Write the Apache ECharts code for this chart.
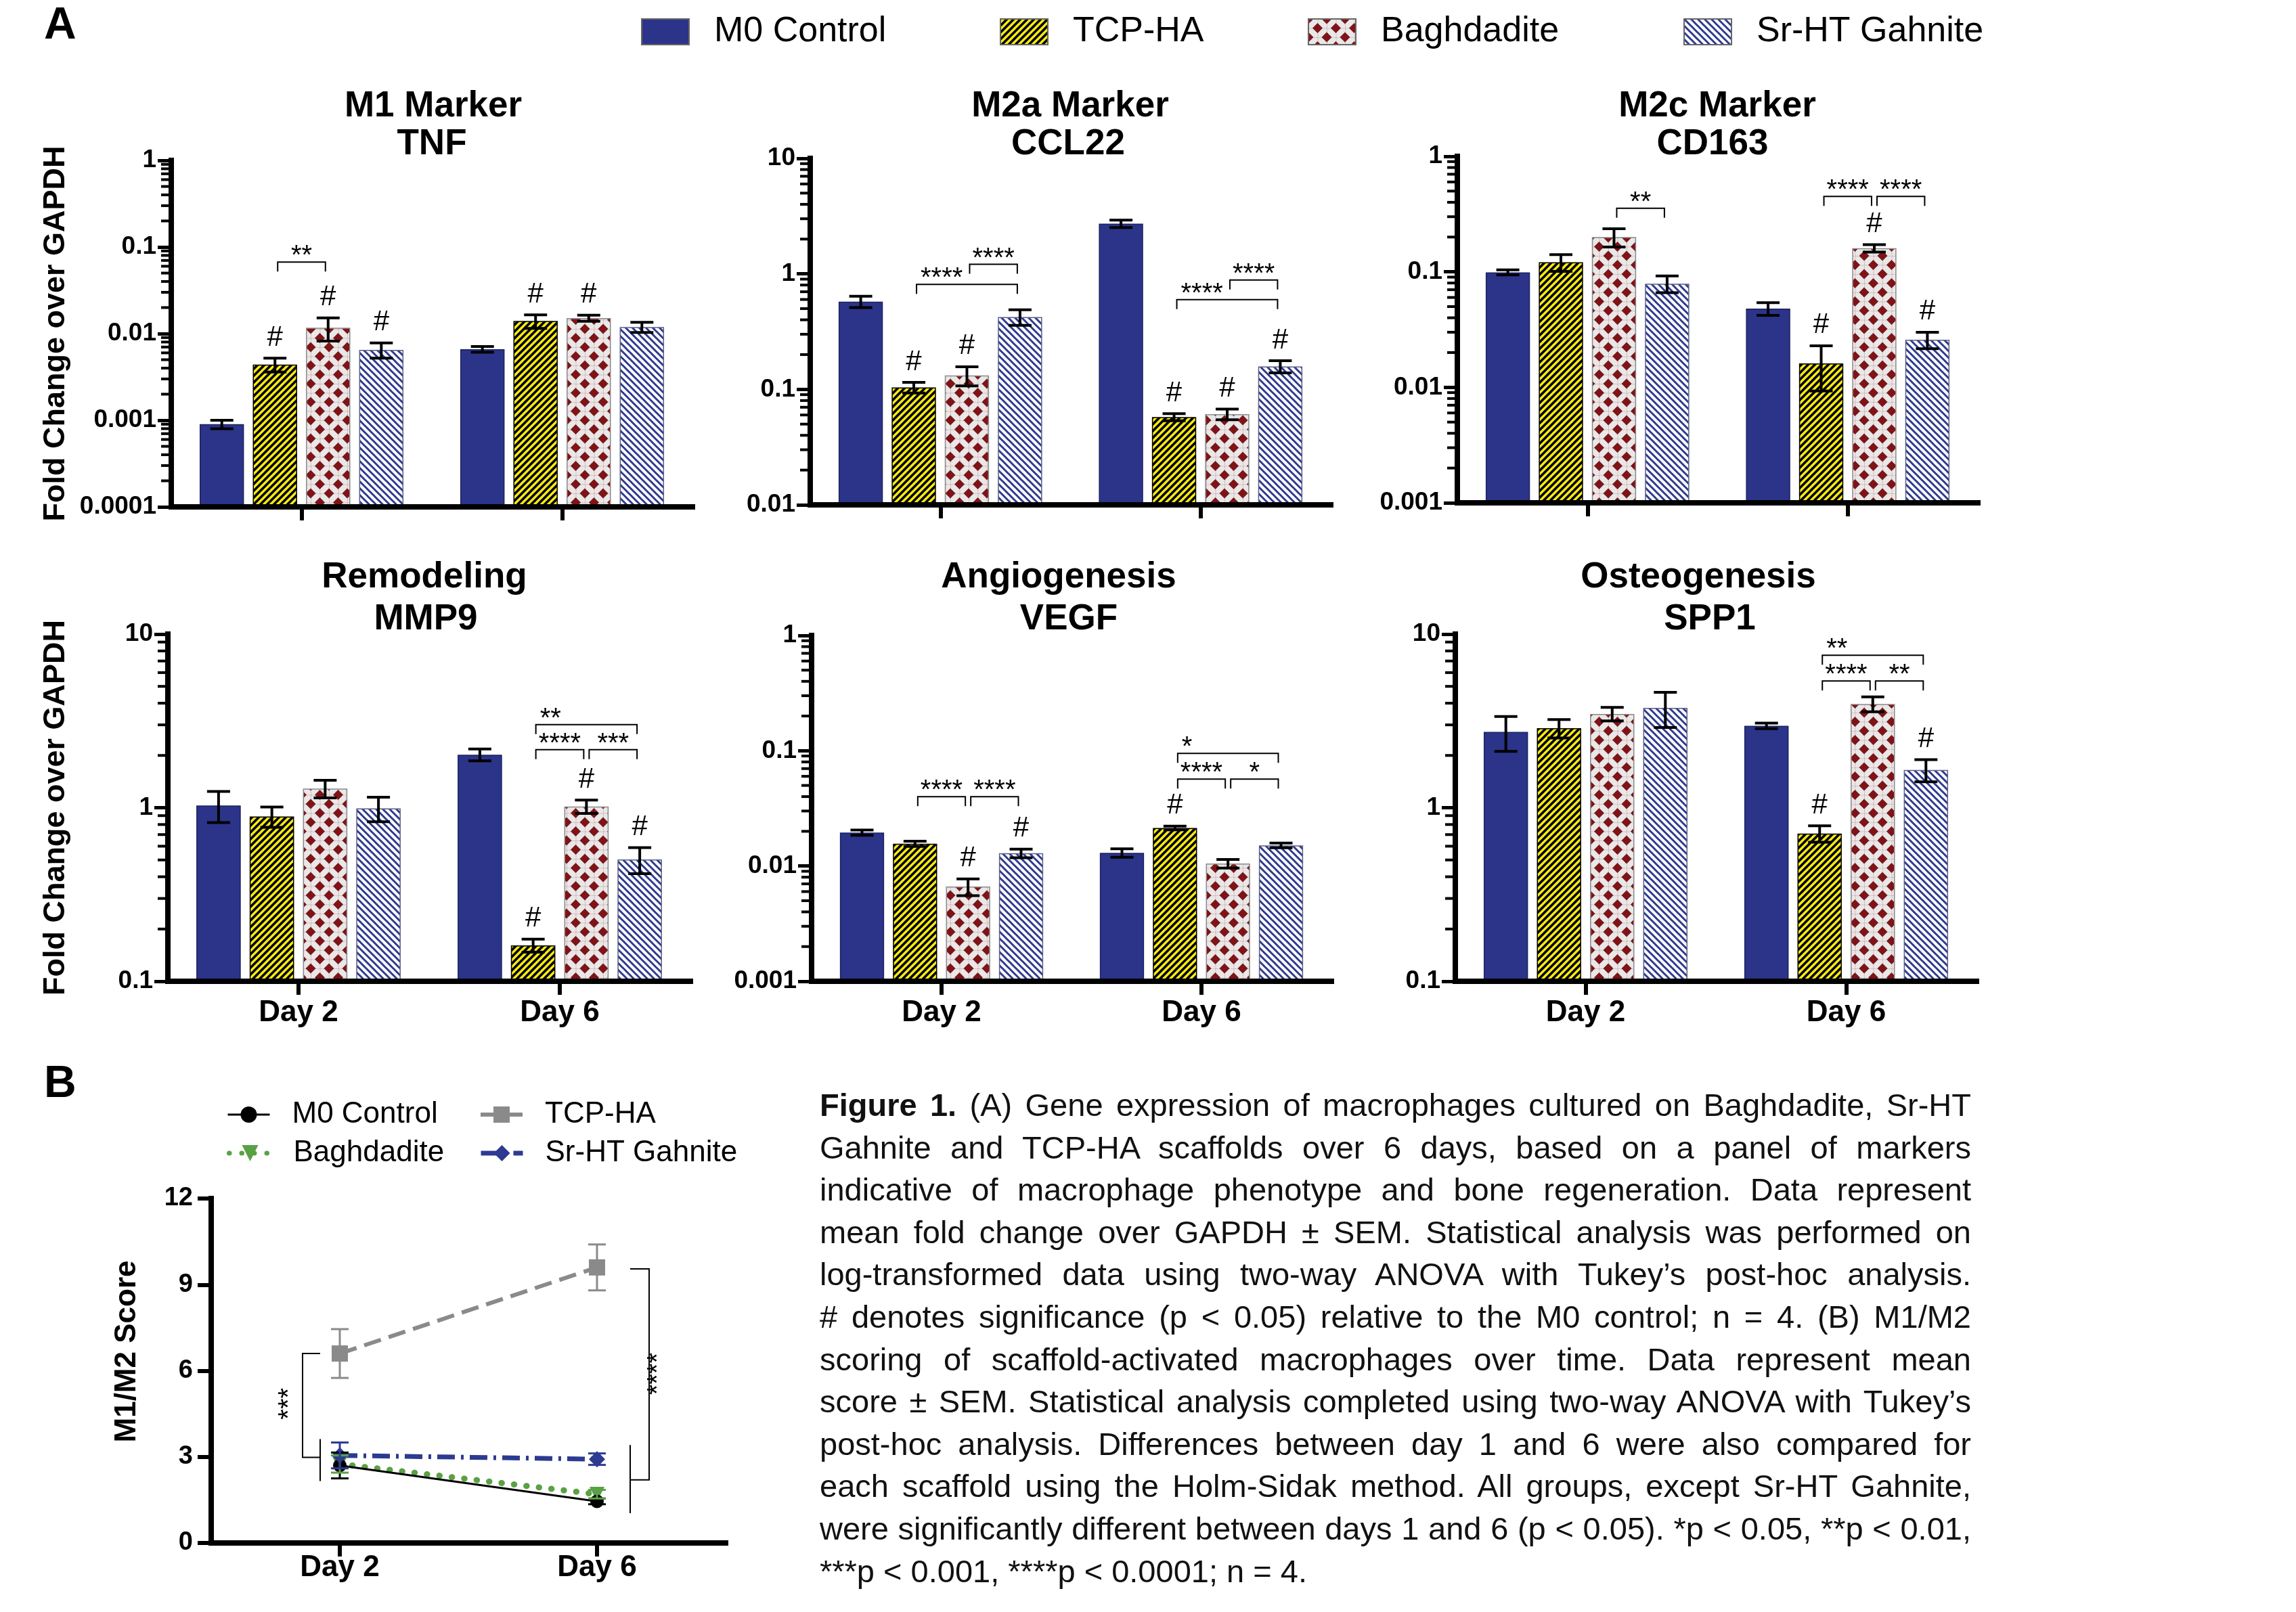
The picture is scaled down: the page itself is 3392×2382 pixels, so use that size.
<!DOCTYPE html>
<html>
<head>
<meta charset="utf-8">
<script src="https://cdn.jsdelivr.net/npm/echarts@6/dist/echarts.min.js"></script>
<style>
  html, body { margin:0; padding:0; background:#ffffff; }
  #chart { position:absolute; left:0; top:0; width:3392px; height:2382px; }
  #caption { position:absolute; left:1211px; top:1602px; width:1701px;
    font-family:'Liberation Sans', Arial, Helvetica, sans-serif; font-size:47px; line-height:62.6px; color:#111; }
  #caption div { height:62.6px; text-align:justify; text-align-last:justify; }
  #caption div.last { text-align-last:left; }
</style>
</head>
<body>
<div id="chart"></div>
<div id="caption"></div>
<script>
const FONT = "'Liberation Sans', Arial, Helvetica, sans-serif";
const ZW = '\u200b';

// ---------------- categories ----------------
const days = ['Day 2', 'Day 6'];
const groups = ['M0 Control', 'TCP-HA', 'Baghdadite', 'Sr-HT Gahnite'];
const panelTitles = [
  ['M1 Marker', 'TNF'], ['M2a Marker', 'CCL22'], ['M2c Marker', 'CD163'],
  ['Remodeling', 'MMP9'], ['Angiogenesis', 'VEGF'], ['Osteogenesis', 'SPP1']
];
const yTitle = 'Fold Change over GAPDH';

// ---------------- tick labels ----------------
const tnfTicks   = ['0.0001', '0.001', '0.01', '0.1', '1'];
const ccl22Ticks = ['0.01', '0.1', '1', '10'];
const cd163Ticks = ['0.001', '0.01', '0.1', '1'];
const mmp9Ticks  = ['0.1', '1', '10'];
const vegfTicks  = ['0.001', '0.01', '0.1', '1'];
const spp1Ticks  = ['0.1', '1', '10'];
const scoreTicks = ['0', '3', '6', '9', '12'];

// ---------------- values (rows: M0, TCP-HA, Baghdadite, Sr-HT; cols: Day 2, Day 6) ----------------
const tnfMean = [[0.0009, 0.0066], [0.0044, 0.014], [0.0117, 0.0151], [0.0065, 0.0119]];
const tnfSem  = [[0.0001, 0.0005], [0.0008, 0.0025], [0.0035, 0.0012], [0.0013, 0.0016]];
const tnfHash = [[0, 0], [1, 1], [1, 1], [1, 0]];
const tnfSig  = [[0, 1, 2, 0.067, '**', 'c']];

const ccl22Mean = [[0.575, 2.72], [0.104, 0.0575], [0.132, 0.061], [0.423, 0.158]];
const ccl22Sem  = [[0.065, 0.2], [0.011, 0.004], [0.025, 0.0065], [0.065, 0.019]];
const ccl22Hash = [[0, 0], [1, 1], [1, 1], [0, 1]];
const ccl22Sig  = [[0, 1, 3, 0.81, '****', 'l'], [0, 2, 3, 1.21, '****', 'c'],
                   [1, 1, 3, 0.598, '****', 'l'], [1, 2, 3, 0.885, '****', 'c']];

const cd163Mean = [[0.099, 0.048], [0.121, 0.0161], [0.2, 0.16], [0.079, 0.0258]];
const cd163Sem  = [[0.005, 0.006], [0.02, 0.0068], [0.036, 0.012], [0.013, 0.0042]];
const cd163Hash = [[0, 0], [0, 1], [0, 1], [0, 1]];
const cd163Sig  = [[0, 2, 3, 0.355, '**', 'c'], [1, 1, 2, 0.449, '****', 'c'], [1, 2, 3, 0.449, '****', 'c']];

const mmp9Mean = [[1.03, 2.02], [0.89, 0.161], [1.29, 1.016], [0.99, 0.503]];
const mmp9Sem  = [[0.21, 0.16], [0.12, 0.014], [0.15, 0.09], [0.16, 0.086]];
const mmp9Hash = [[0, 0], [0, 1], [0, 1], [0, 1]];
const mmp9Sig  = [[1, 1, 2, 2.16, '****', 'c'], [1, 2, 3, 2.16, '***', 'c'], [1, 1, 3, 3.01, '**', 'l']];

const vegfMean = [[0.0195, 0.013], [0.0156, 0.0214], [0.00663, 0.0105], [0.0129, 0.0151]];
const vegfSem  = [[0.001, 0.0011], [0.0008, 0.0008], [0.0011, 0.0009], [0.0011, 0.0007]];
const vegfHash = [[0, 0], [0, 1], [1, 0], [1, 0]];
const vegfSig  = [[0, 1, 2, 0.0399, '****', 'c'], [0, 2, 3, 0.0399, '****', 'c'],
                  [1, 1, 2, 0.0567, '****', 'c'], [1, 2, 3, 0.0567, '*', 'c'], [1, 1, 3, 0.0947, '*', 'l']];

const spp1Mean = [[2.73, 2.96], [2.87, 0.71], [3.47, 3.96], [3.76, 1.65]];
const spp1Sem  = [[0.62, 0.11], [0.35, 0.077], [0.31, 0.39], [0.86, 0.24]];
const spp1Hash = [[0, 0], [0, 1], [0, 0], [0, 1]];
const spp1Sig  = [[1, 1, 2, 5.37, '****', 'c'], [1, 2, 3, 5.37, '**', 'c'], [1, 1, 3, 7.55, '**', 'l']];

// Panel B: M1/M2 score
const scoreMean = [[2.7, 1.45], [6.6, 9.6], [2.75, 1.7], [3.05, 2.92]];
const scoreSem  = [[0.45, 0.1], [0.85, 0.8], [0.3, 0.15], [0.45, 0.2]];
// [day, bracket top, bracket bottom, group top, group bottom, label y, label]
const scoreSig  = [[0, 6.6, 2.98, 3.62, 2.16, 4.85, '***'], [1, 9.55, 2.2, 3.41, 1.04, 5.89, '****']];

const captionBold = 'Figure 1.';
const captionLines = [
  ' (A) Gene expression of macrophages cultured on Baghdadite, Sr-HT',
  'Gahnite and TCP-HA scaffolds over 6 days, based on a panel of markers',
  'indicative of macrophage phenotype and bone regeneration. Data represent',
  'mean fold change over GAPDH \u00b1 SEM. Statistical analysis was performed on',
  'log-transformed data using two-way ANOVA with Tukey\u2019s post-hoc analysis.',
  '# denotes significance (p < 0.05) relative to the M0 control; n = 4. (B) M1/M2',
  'scoring of scaffold-activated macrophages over time. Data represent mean',
  'score \u00b1 SEM. Statistical analysis completed using two-way ANOVA with Tukey\u2019s',
  'post-hoc analysis. Differences between day 1 and 6 were also compared for',
  'each scaffold using the Holm-Sidak method. All groups, except Sr-HT Gahnite,',
  'were significantly different between days 1 and 6 (p < 0.05). *p < 0.05, **p < 0.01,',
  '***p < 0.001, ****p < 0.0001; n = 4.'
];

// ---------------- layout (styles only) ----------------
const panelGrids = [
  {left: 253, top: 237, width: 770, height: 512},
  {left: 1197, top: 234, width: 769, height: 512},
  {left: 2153, top: 231, width: 769, height: 512},
  {left: 248, top: 937, width: 772, height: 513},
  {left: 1199, top: 939, width: 768, height: 511},
  {left: 2150, top: 937, width: 770, height: 513}
];
const scoreGrid = {left: 312, top: 1771, width: 760, height: 509};
const titleX = [[640, 638], [1581, 1578], [2537, 2530], [627, 629], [1564, 1579], [2509, 2526]];
const titleY = [[157, 213], [157, 213], [157, 213], [853, 915], [853, 915], [853, 915]];
const legendALeft = [947, 1477, 1932, 2487];
const legendBPos = [[335, 1628], [707, 1628], [335, 1685], [707, 1685]];
const BAR_W = 0.17, BAR_GAP = 0.2;

// ---------------- patterns ----------------
function stripeTile(bg, fg, size, lw, rising) {
  const c = document.createElement('canvas');
  c.width = size; c.height = size;
  const g = c.getContext('2d');
  g.fillStyle = bg; g.fillRect(0, 0, size, size);
  g.strokeStyle = fg; g.lineWidth = lw;
  g.beginPath();
  for (let o = -size; o <= size; o += size) {
    if (rising) { g.moveTo(o - 3, size + 3); g.lineTo(o + size + 3, -3); }
    else { g.moveTo(o - 3, -3); g.lineTo(o + size + 3, size + 3); }
  }
  g.stroke();
  return {image: c, repeat: 'repeat'};
}
function diamondTile(bg, fg, size, r) {
  const c = document.createElement('canvas');
  c.width = size; c.height = size;
  const g = c.getContext('2d');
  g.fillStyle = bg; g.fillRect(0, 0, size, size);
  g.strokeStyle = 'rgba(170,50,50,0.22)'; g.lineWidth = 1;
  g.beginPath();
  g.moveTo(0, size / 2 + 0.5); g.lineTo(size, size / 2 + 0.5);
  g.moveTo(size / 2 + 0.5, 0); g.lineTo(size / 2 + 0.5, size);
  g.moveTo(0, 0.5); g.lineTo(size, 0.5);
  g.moveTo(0.5, 0); g.lineTo(0.5, size);
  g.stroke();
  g.fillStyle = fg;
  [[0, 0], [size, 0], [0, size], [size, size], [size / 2, size / 2]].forEach(([cx, cy]) => {
    g.beginPath();
    g.moveTo(cx, cy - r); g.lineTo(cx + r, cy); g.lineTo(cx, cy + r); g.lineTo(cx - r, cy);
    g.closePath(); g.fill();
  });
  return {image: c, repeat: 'repeat'};
}
const fills = [
  '#2b3488',
  stripeTile('#f6ea14', '#000000', 10, 3.6, true),
  diamondTile('#e9e8e8', '#7e1418', 27, 7.5),
  stripeTile('#ffffff', '#2e3a8e', 10, 3.0, false)
];
const borders = ['#1c2260', '#000000', '#8a8a8a', '#5a5f84'];

// ---------------- helpers ----------------
const panels = [
  {ticks: tnfTicks, mean: tnfMean, sem: tnfSem, hash: tnfHash, sig: tnfSig},
  {ticks: ccl22Ticks, mean: ccl22Mean, sem: ccl22Sem, hash: ccl22Hash, sig: ccl22Sig},
  {ticks: cd163Ticks, mean: cd163Mean, sem: cd163Sem, hash: cd163Hash, sig: cd163Sig},
  {ticks: mmp9Ticks, mean: mmp9Mean, sem: mmp9Sem, hash: mmp9Hash, sig: mmp9Sig},
  {ticks: vegfTicks, mean: vegfMean, sem: vegfSem, hash: vegfHash, sig: vegfSig},
  {ticks: spp1Ticks, mean: spp1Mean, sem: spp1Sem, hash: spp1Hash, sig: spp1Sig}
];
panels.forEach(P => {
  P.min = parseFloat(P.ticks[0]);
  P.max = parseFloat(P.ticks[P.ticks.length - 1]);
});
function logLabel(ticks) {
  return function (v) {
    const lv = Math.log10(v);
    const t = ticks.find(s => Math.abs(Math.log10(parseFloat(s)) - lv) < 0.02);
    return t || '';
  };
}
function minorVals(min, max) {
  const out = [];
  for (let e = Math.round(Math.log10(min)); e < Math.round(Math.log10(max)); e++) {
    for (let m = 2; m <= 9; m++) out.push(m * Math.pow(10, e));
  }
  return out;
}
function barCenterX(api, day, k, v) {
  const a = api.coord([0, v])[0], b = api.coord([1, v])[0];
  const band = b - a;
  const c = day === 0 ? a : b;
  const bw = band * BAR_W, gap = bw * BAR_GAP;
  const total = 4 * bw + 3 * gap;
  return c - total / 2 + k * (bw + gap) + bw / 2;
}
function ln(x1, y1, x2, y2, color, w) {
  return {type: 'line', shape: {x1, y1, x2, y2}, style: {stroke: color, lineWidth: w, fill: 'none'}};
}
function txt(x, y, text, font, align, valign, rot) {
  const el = {type: 'text', x: x, y: y,
    style: {text: text, font: font, fill: '#000', align: align, verticalAlign: valign,
            textAlign: align, textVerticalAlign: valign}};
  if (rot) el.rotation = rot;
  return el;
}
function errRender(params, api) {
  const d = api.value(0), k = api.value(1), m = api.value(2), e = api.value(3), h = api.value(4);
  const x = barCenterX(api, d, k, m);
  const yT = api.coord([d, m + e])[1];
  const yB = api.coord([d, Math.max(m - e, m * 0.05)])[1];
  const cw = 17;
  const ch = [ln(x, yT, x, yB, '#000', 4), ln(x - cw, yT, x + cw, yT, '#000', 4), ln(x - cw, yB, x + cw, yB, '#000', 4)];
  if (h) ch.push(txt(x, yT - 9, '#', '42px ' + FONT, 'center', 'bottom'));
  return {type: 'group', children: ch};
}
function makeSigRender(sig) {
  return function (params, api) {
    const s = sig[params.dataIndex];
    const d = s[0], a = s[1], b = s[2], yv = s[3], lab = s[4], al = s[5];
    const xa = barCenterX(api, d, a, yv) + 4, xb = barCenterX(api, d, b, yv) - 4;
    const y = api.coord([d, yv])[1];
    return {type: 'group', children: [
      {type: 'polyline', shape: {points: [[xa, y + 14], [xa, y], [xb, y], [xb, y + 14]]},
       style: {stroke: '#000', lineWidth: 2, fill: 'none'}},
      txt(al === 'l' ? xa + 6 : (xa + xb) / 2, y + 12, lab, '40px ' + FONT, al === 'l' ? 'left' : 'center', 'bottom')
    ]};
  };
}
function minorRender(params, api) {
  const v = api.value(1);
  const p0 = api.coord([0, v]), p1 = api.coord([1, v]);
  const x0 = p0[0] - (p1[0] - p0[0]) / 2;
  return ln(x0 - 15, p0[1], x0, p0[1], '#000', 4);
}

// ---------------- build option ----------------
const grids = [], xAxes = [], yAxes = [], series = [];
panels.forEach((P, p) => {
  grids.push(Object.assign({containLabel: false, outerBoundsMode: 'none'}, panelGrids[p]));
  xAxes.push({
    type: 'category', gridIndex: p, data: days, z: 10,
    axisLine: {show: true, lineStyle: {color: '#000', width: 8, cap: 'square'}},
    axisTick: {show: true, alignWithLabel: true, length: 20, lineStyle: {color: '#000', width: 6}},
    axisLabel: {show: p >= 3, margin: 25, fontFamily: FONT, fontSize: 44, fontWeight: 'bold', color: '#000'},
    splitLine: {show: false}
  });
  yAxes.push({
    type: 'log', logBase: 10, gridIndex: p, min: P.min, max: P.max, startValue: P.min, z: 10,
    axisLine: {show: true, lineStyle: {color: '#000', width: 8, cap: 'square'}},
    axisTick: {show: true, length: 20, lineStyle: {color: '#000', width: 5}},
    axisLabel: {margin: 22, fontFamily: FONT, fontSize: 37, fontWeight: 'bold', color: '#000', formatter: logLabel(P.ticks)},
    splitLine: {show: false}, minorTick: {show: false},
    name: (p % 3 === 0) ? yTitle : '', nameLocation: 'middle', nameGap: (p === 0 ? 148 : 143),
    nameTextStyle: {fontFamily: FONT, fontSize: 45, fontWeight: 'bold', color: '#000'}
  });
  groups.forEach((g, k) => {
    series.push({
      type: 'bar', name: g, xAxisIndex: p, yAxisIndex: p, data: P.mean[k],
      barWidth: (BAR_W * 100) + '%', barGap: (BAR_GAP * 100) + '%', silent: true, z: 2,
      itemStyle: {color: fills[k], borderColor: borders[k], borderWidth: 1.5}
    });
  });
  const errData = [];
  groups.forEach((g, k) => days.forEach((dd, di) => errData.push([di, k, P.mean[k][di], P.sem[k][di], P.hash[k][di]])));
  series.push({type: 'custom', xAxisIndex: p, yAxisIndex: p, z: 5, silent: true, clip: false,
    data: errData, encode: {x: 0, y: 2}, renderItem: errRender});
  series.push({type: 'custom', xAxisIndex: p, yAxisIndex: p, z: 5, silent: true, clip: false,
    data: P.sig.map(s => [s[0], s[1], s[2], s[3]]), encode: {x: 0, y: 3}, renderItem: makeSigRender(P.sig)});
  series.push({type: 'custom', xAxisIndex: p, yAxisIndex: p, z: 11, silent: true, clip: false,
    data: minorVals(P.min, P.max).map(v => [0, v]), encode: {x: 0, y: 1}, renderItem: minorRender});
});

// Panel B
const B = 6;
grids.push(Object.assign({containLabel: false, outerBoundsMode: 'none'}, scoreGrid));
xAxes.push({
  type: 'category', gridIndex: B, data: days, z: 10,
  axisLine: {show: true, lineStyle: {color: '#000', width: 8, cap: 'square'}},
  axisTick: {show: true, alignWithLabel: true, length: 20, lineStyle: {color: '#000', width: 6}},
  axisLabel: {margin: 15, fontFamily: FONT, fontSize: 44, fontWeight: 'bold', color: '#000'},
  splitLine: {show: false}
});
yAxes.push({
  type: 'value', gridIndex: B, min: 0, max: 12, interval: 3, z: 10,
  axisLine: {show: true, lineStyle: {color: '#000', width: 8, cap: 'square'}},
  axisTick: {show: true, length: 20, lineStyle: {color: '#000', width: 6}},
  axisLabel: {margin: 27, fontFamily: FONT, fontSize: 38, fontWeight: 'bold', color: '#000',
    formatter: v => scoreTicks.find(t => +t === v) || ''},
  splitLine: {show: false}
});
const scoreStyles = [
  {color: '#000000', symbol: 'circle', size: 20, rotate: 0, line: {width: 3, type: 'solid'}},
  {color: '#8a8a8a', symbol: 'rect', size: 24, rotate: 0, line: {width: 6, type: [26, 12]}},
  {color: '#5aa145', symbol: 'triangle', size: 22, rotate: 180, line: {width: 9, type: [0.5, 18], cap: 'round'}},
  {color: '#2c3a92', symbol: 'diamond', size: 24, rotate: 0, line: {width: 7, type: [26, 9, 4, 9]}}
];
const drawOrder = [2, 0, 3, 1];
drawOrder.forEach(k => {
  const st = scoreStyles[k];
  series.push({
    type: 'line', name: groups[k] + ZW, xAxisIndex: B, yAxisIndex: B, data: scoreMean[k], z: 3,
    symbol: st.symbol, symbolSize: st.size, symbolRotate: st.rotate, silent: true,
    itemStyle: {color: st.color},
    lineStyle: Object.assign({color: st.color}, st.line)
  });
});
const scoreErrData = [];
groups.forEach((g, k) => days.forEach((dd, di) => scoreErrData.push([di, scoreMean[k][di], scoreSem[k][di], k])));
series.push({type: 'custom', xAxisIndex: B, yAxisIndex: B, z: 4, silent: true, clip: false,
  data: scoreErrData, encode: {x: 0, y: 1},
  renderItem: function (params, api) {
    const d = api.value(0), m = api.value(1), e = api.value(2), k = api.value(3);
    const col = scoreStyles[k].color;
    const x = api.coord([d, m])[0];
    const yT = api.coord([d, m + e])[1], yB = api.coord([d, m - e])[1];
    return {type: 'group', children: [ln(x, yT, x, yB, col, 3), ln(x - 13, yT, x + 13, yT, col, 3), ln(x - 13, yB, x + 13, yB, col, 3)]};
  }});
series.push({type: 'custom', xAxisIndex: B, yAxisIndex: B, z: 4, silent: true, clip: false,
  data: scoreSig.map(s => [s[0], s[1]]), encode: {x: 0, y: 1},
  renderItem: function (params, api) {
    const s = scoreSig[params.dataIndex];
    const d = s[0];
    const off = d === 0 ? {main: -55, inner: -29, text: -74} : {main: 77, inner: 49, text: 91};
    const cx = api.coord([d, s[1]])[0];
    const yA = api.coord([d, s[1]])[1], yB = api.coord([d, s[2]])[1];
    const gA = api.coord([d, s[3]])[1], gB = api.coord([d, s[4]])[1];
    const yT = api.coord([d, s[5]])[1];
    const xm = cx + off.main, xi = cx + off.inner;
    return {type: 'group', children: [
      {type: 'polyline', shape: {points: [[xi, yA], [xm, yA], [xm, yB], [xi, yB]]}, style: {stroke: '#000', lineWidth: 2, fill: 'none'}},
      ln(xi, gA, xi, gB, '#000', 2),
      txt(cx + off.text, yT, s[6], '40px ' + FONT, 'center', 'middle', Math.PI / 2)
    ]};
  }});

// legends
const legends = groups.map((g, k) => ({
  data: [g], left: legendALeft[k], top: 21, padding: 0, icon: 'rect', itemWidth: 70, itemHeight: 38,
  selectedMode: false, itemStyle: {borderColor: '#666', borderWidth: 2},
  textStyle: {fontFamily: FONT, fontSize: 52, color: '#000', padding: [0, 0, 0, 32]}
}));
groups.forEach((g, k) => legends.push({
  data: [g + ZW], left: legendBPos[k][0], top: legendBPos[k][1] - 3, padding: 0, itemWidth: 62, itemHeight: 30,
  selectedMode: false, formatter: n => n.replace(ZW, ''),
  lineStyle: {width: Math.min(scoreStyles[k].line.width, 7)},
  textStyle: {fontFamily: FONT, fontSize: 44, color: '#000', padding: [0, 0, 0, 28]}
}));

// graphic texts
const graphics = [];
panelTitles.forEach((t, p) => t.forEach((line, i) => {
  graphics.push(Object.assign(txt(titleX[p][i], titleY[p][i], line, 'bold 53px ' + FONT, 'center', 'middle'), {silent: true}));
}));
graphics.push(txt(65, 39, 'A', 'bold 66px ' + FONT, 'left', 'middle'));
graphics.push(txt(65, 1603, 'B', 'bold 66px ' + FONT, 'left', 'middle'));
graphics.push(txt(188, 1997, 'M1/M2 Score', 'bold 44px ' + FONT, 'center', 'middle', Math.PI / 2));

const chart = echarts.init(document.getElementById('chart'), null, {renderer: 'canvas', width: 3392, height: 2382});
chart.setOption({
  animation: false,
  backgroundColor: '#ffffff',
  textStyle: {fontFamily: FONT},
  grid: grids, xAxis: xAxes, yAxis: yAxes,
  legend: legends,
  graphic: {elements: graphics},
  series: series
});

// caption
const cap = document.getElementById('caption');
captionLines.forEach((t, i) => {
  const d = document.createElement('div');
  if (i === 0) {
    const b = document.createElement('b'); b.textContent = captionBold; d.appendChild(b);
    d.appendChild(document.createTextNode(t));
  } else {
    d.textContent = t;
  }
  if (i === captionLines.length - 1) d.className = 'last';
  cap.appendChild(d);
});
Array.from(cap.children).forEach(d => {
  let fs = 47;
  while (d.scrollHeight > 80 && fs > 38) { fs -= 0.5; d.style.fontSize = fs + 'px'; }
});
</script>
</body>
</html>
